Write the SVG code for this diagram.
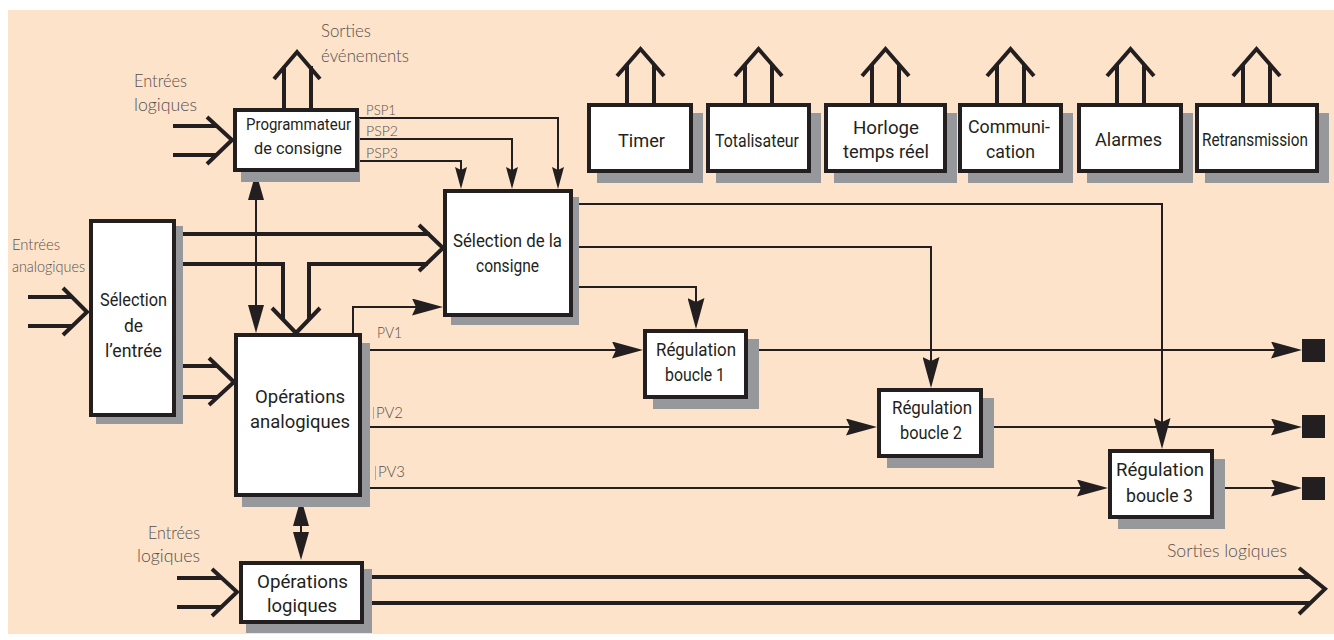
<svg xmlns="http://www.w3.org/2000/svg" width="1334" height="640" viewBox="0 0 1334 640">
<style>
.bg{fill:#fde3c9}
.box{fill:#fff;stroke:#231f20;stroke-width:4}
.sh{fill:#97989c}
.t{font-family:Roboto,"Liberation Sans",sans-serif;font-weight:400;font-size:19px;fill:#231f20;text-anchor:middle}
.g{font-family:Lato,"Liberation Sans",sans-serif;font-weight:300;font-size:17px;fill:#555050}
.thin{fill:none;stroke:#231f20;stroke-width:2}
.thick{fill:none;stroke:#231f20;stroke-width:4;stroke-linejoin:miter}
.tick{stroke:#b0aaa5;stroke-width:1}
.sq{fill:#231f20}
</style>
<defs>
<marker id="ah" markerUnits="userSpaceOnUse" markerWidth="31" markerHeight="17" refX="27" refY="8.5" orient="auto" viewBox="0 0 31 17">
<path d="M0,0 L31,8.5 L0,17 L4,8.5 z" fill="#231f20"/>
</marker>
<marker id="ahd" markerUnits="userSpaceOnUse" markerWidth="28" markerHeight="16" refX="24" refY="8" orient="auto-start-reverse" viewBox="0 0 28 16">
<path d="M0,0 L28,8 L0,16 z" fill="#231f20"/>
</marker>
<marker id="ahs" markerUnits="userSpaceOnUse" markerWidth="22" markerHeight="12" refX="18" refY="6" orient="auto" viewBox="0 0 22 12">
<path d="M0,0 L22,6 L0,12 L3,6 z" fill="#231f20"/>
</marker>
</defs>
<rect class="bg" x="8" y="10" width="1326" height="624"/>

<g id="connectors">
<path class="thin" d="M359,118 H558 V185" marker-end="url(#ahs)"/>
<path class="thin" d="M359,139 H512 V185" marker-end="url(#ahs)"/>
<path class="thin" d="M359,161 H461 V185" marker-end="url(#ahs)"/>
<path class="thin" d="M256,176 V329" marker-start="url(#ahd)" marker-end="url(#ahd)"/>
<path class="thin" d="M301,502 V556" marker-start="url(#ahd)" marker-end="url(#ahd)"/>
<path class="thick" d="M176,234 H430"/>
<path class="thick" d="M309,320 V264 H428"/>
<path class="thick" d="M419,225 L443,248 L419,271"/>
<path class="thick" d="M176,264 H283 V320"/>
<path class="thick" d="M272,308 L296,333 L320,308"/>
<path class="thick" d="M176,366 H218 M176,397 H218"/>
<path class="thick" d="M209,358 L234,382 L209,405"/>
<path class="thick" d="M28,297 H72 M28,326 H72"/>
<path class="thick" d="M63,288 L87,312 L63,335"/>
<path class="thick" d="M173,126 H217 M173,155 H217"/>
<path class="thick" d="M207,117 L232,140 L207,164"/>
<path class="thick" d="M177,578 H222 M177,607 H222"/>
<path class="thick" d="M212,569 L237,592 L212,616"/>
<path class="thick" d="M364,577 H1310 M364,603 H1310"/>
<path class="thick" d="M1299,568 L1325,589 L1299,614"/>
<path class="thick" d="M284,108 V66 M311,108 V66 M274,79 L297,52 L320,79"/>
<path class="thick" d="M627,103 V64 M654,103 V64 M617,76 L640.5,49 L664,76"/>
<path class="thick" d="M745,103 V64 M772,103 V64 M735,76 L758.5,49 L782,76"/>
<path class="thick" d="M872,103 V64 M899,103 V64 M862,76 L885.5,49 L909,76"/>
<path class="thick" d="M997,103 V64 M1024,103 V64 M987,76 L1010.5,49 L1034,76"/>
<path class="thick" d="M1117,103 V64 M1144,103 V64 M1107,76 L1130.5,49 L1154,76"/>
<path class="thick" d="M1243,103 V64 M1270,103 V64 M1233,76 L1256.5,49 L1280,76"/>
<path class="thin" d="M353,333 V307 H439" marker-end="url(#ah)"/>
<path class="thin" d="M362,350 H639" marker-end="url(#ah)"/>
<path class="thin" d="M362,427 H873" marker-end="url(#ah)"/>
<path class="thin" d="M362,488 H1104" marker-end="url(#ah)"/>
<path class="thin" d="M748,350 H1298" marker-end="url(#ah)"/>
<path class="thin" d="M983,427 H1298" marker-end="url(#ah)"/>
<path class="thin" d="M1214,488 H1298" marker-end="url(#ah)"/>
<rect class="sq" x="1302" y="339" width="23" height="23"/>
<rect class="sq" x="1302" y="415" width="23" height="23"/>
<rect class="sq" x="1302" y="477" width="23" height="23"/>
<path class="thin" d="M573,287 H696 V325" marker-end="url(#ah)"/>
<path class="thin" d="M573,247 H931 V384" marker-end="url(#ah)"/>
<path class="thin" d="M573,204 H1162 V445" marker-end="url(#ah)"/>
</g>

<g id="prog">
<rect class="sh" x="241" y="118" width="119" height="64"/>
<rect class="box" x="235" y="110" width="122" height="60"/>
<text class="t" style="font-size:17px" x="298.5" y="130" textLength="105" lengthAdjust="spacingAndGlyphs">Programmateur</text>
<text class="t" style="font-size:17px" x="298" y="154" textLength="88" lengthAdjust="spacingAndGlyphs">de consigne</text>
</g>
<g id="timer">
<rect class="sh" x="597" y="113" width="106" height="70"/>
<rect class="box" x="589" y="105" width="102" height="66"/>
<text class="t" x="641.5" y="147" textLength="47" lengthAdjust="spacingAndGlyphs">Timer</text>
</g>
<g id="totalisateur">
<rect class="sh" x="716" y="113" width="105" height="70"/>
<rect class="box" x="708" y="105" width="101" height="66"/>
<text class="t" x="757" y="147" textLength="84" lengthAdjust="spacingAndGlyphs">Totalisateur</text>
</g>
<g id="horloge">
<rect class="sh" x="834" y="113" width="123" height="70"/>
<rect class="box" x="826" y="105" width="119" height="66"/>
<text class="t" style="font-size:18px" x="886" y="134" textLength="66" lengthAdjust="spacingAndGlyphs">Horloge</text>
<text class="t" style="font-size:18px" x="886" y="158" textLength="86" lengthAdjust="spacingAndGlyphs">temps réel</text>
</g>
<g id="communication">
<rect class="sh" x="968" y="113" width="105" height="70"/>
<rect class="box" x="960" y="105" width="101" height="66"/>
<text class="t" style="font-size:18px" x="1009" y="133" textLength="82" lengthAdjust="spacingAndGlyphs">Communi-</text>
<text class="t" style="font-size:18px" x="1010.5" y="158" textLength="49" lengthAdjust="spacingAndGlyphs">cation</text>
</g>
<g id="alarmes">
<rect class="sh" x="1087" y="113" width="106" height="70"/>
<rect class="box" x="1079" y="105" width="102" height="66"/>
<text class="t" x="1128.5" y="146" textLength="67" lengthAdjust="spacingAndGlyphs">Alarmes</text>
</g>
<g id="retransmission">
<rect class="sh" x="1205" y="113" width="124" height="70"/>
<rect class="box" x="1197" y="105" width="120" height="66"/>
<text class="t" x="1255" y="146" textLength="106" lengthAdjust="spacingAndGlyphs">Retransmission</text>
</g>
<g id="selconsigne">
<rect class="sh" x="451" y="197" width="128" height="128"/>
<rect class="box" x="445" y="191" width="126" height="124"/>
<text class="t" x="507.5" y="247" textLength="109" lengthAdjust="spacingAndGlyphs">Sélection de la</text>
<text class="t" x="507.5" y="272" textLength="63" lengthAdjust="spacingAndGlyphs">consigne</text>
</g>
<g id="boucle1">
<rect class="sh" x="653" y="339" width="106" height="70"/>
<rect class="box" x="645" y="331" width="101" height="66"/>
<text class="t" x="696" y="356" textLength="80" lengthAdjust="spacingAndGlyphs">Régulation</text>
<text class="t" x="695" y="381" textLength="60" lengthAdjust="spacingAndGlyphs">boucle 1</text>
</g>
<g id="boucle2">
<rect class="sh" x="887" y="398" width="107" height="70"/>
<rect class="box" x="879" y="390" width="102" height="66"/>
<text class="t" x="932" y="414" textLength="80" lengthAdjust="spacingAndGlyphs">Régulation</text>
<text class="t" x="931" y="439" textLength="62" lengthAdjust="spacingAndGlyphs">boucle 2</text>
</g>
<g id="boucle3">
<rect class="sh" x="1118" y="459" width="107" height="70"/>
<rect class="box" x="1110" y="451" width="102" height="66"/>
<text class="t" x="1160" y="476" textLength="88" lengthAdjust="spacingAndGlyphs">Régulation</text>
<text class="t" x="1159.5" y="502" textLength="67" lengthAdjust="spacingAndGlyphs">boucle 3</text>
</g>
<g id="selentree">
<rect class="sh" x="96" y="226" width="87" height="198"/>
<rect class="box" x="91" y="221" width="83" height="194"/>
<text class="t" x="133.5" y="306" textLength="67" lengthAdjust="spacingAndGlyphs">Sélection</text>
<text class="t" x="133.5" y="332" textLength="19" lengthAdjust="spacingAndGlyphs">de</text>
<text class="t" x="133.5" y="357" textLength="57" lengthAdjust="spacingAndGlyphs">l’entrée</text>
</g>
<g id="opanalog">
<rect class="sh" x="242" y="343" width="128" height="164"/>
<rect class="box" x="236" y="335" width="124" height="160"/>
<text class="t" x="300" y="403" textLength="90" lengthAdjust="spacingAndGlyphs">Opérations</text>
<text class="t" x="300" y="428" textLength="100" lengthAdjust="spacingAndGlyphs">analogiques</text>
</g>
<g id="oplog">
<rect class="sh" x="246" y="569" width="126" height="64"/>
<rect class="box" x="241" y="563" width="121" height="59"/>
<text class="t" x="302.5" y="588" textLength="91" lengthAdjust="spacingAndGlyphs">Opérations</text>
<text class="t" x="302" y="612" textLength="70" lengthAdjust="spacingAndGlyphs">logiques</text>
</g>

<g id="labels">
<text class="g" x="321" y="37" textLength="50" lengthAdjust="spacingAndGlyphs">Sorties</text>
<text class="g" x="321" y="62" textLength="88" lengthAdjust="spacingAndGlyphs">événements</text>
<text class="g" x="134" y="87" textLength="53" lengthAdjust="spacingAndGlyphs">Entrées</text>
<text class="g" x="134" y="111" textLength="63" lengthAdjust="spacingAndGlyphs">logiques</text>
<text class="g" style="font-size:14px" x="366" y="115" textLength="30" lengthAdjust="spacingAndGlyphs">PSP1</text>
<text class="g" style="font-size:14px" x="366" y="136" textLength="32" lengthAdjust="spacingAndGlyphs">PSP2</text>
<text class="g" style="font-size:14px" x="366" y="158" textLength="32" lengthAdjust="spacingAndGlyphs">PSP3</text>
<text class="g" style="font-size:16px" x="12" y="250" textLength="48" lengthAdjust="spacingAndGlyphs">Entrées</text>
<text class="g" style="font-size:16px" x="12" y="272" textLength="73" lengthAdjust="spacingAndGlyphs">analogiques</text>
<text class="g" style="font-size:15px" x="377" y="338" textLength="25" lengthAdjust="spacingAndGlyphs">PV1</text>
<line class="tick" x1="373.5" y1="407" x2="373.5" y2="419"/>
<text class="g" style="font-size:15px" x="376" y="418" textLength="27" lengthAdjust="spacingAndGlyphs">PV2</text>
<line class="tick" x1="375.5" y1="466" x2="375.5" y2="480"/>
<text class="g" style="font-size:15px" x="378" y="477" textLength="27" lengthAdjust="spacingAndGlyphs">PV3</text>
<text class="g" x="148" y="539" textLength="52" lengthAdjust="spacingAndGlyphs">Entrées</text>
<text class="g" x="137" y="562" textLength="63" lengthAdjust="spacingAndGlyphs">logiques</text>
<text class="g" style="font-size:18px" x="1167" y="557" textLength="120" lengthAdjust="spacingAndGlyphs">Sorties logiques</text>
</g>
</svg>
